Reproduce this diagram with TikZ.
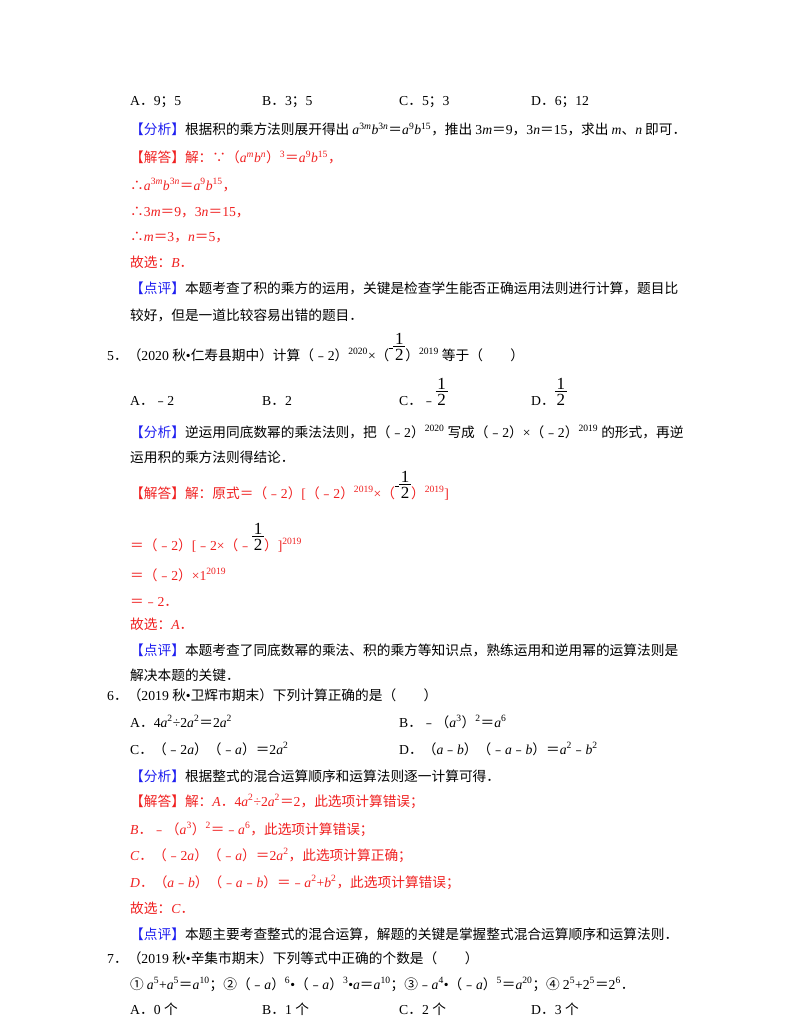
\documentclass[tikz,border=0pt]{standalone}
\usepackage{fontspec}
\setmainfont{Liberation Serif}
\newfontfamily\cjk{Noto Sans CJK SC}
\newfontfamily\fracf{Liberation Sans}
\XeTeXinterchartokenstate=1
\newXeTeXintercharclass\cjkc
\newcount\rc
\def\setrange#1#2{\rc=#1 \loop \XeTeXcharclass\rc=\cjkc \advance\rc 1 \ifnum\rc<#2 \repeat}
\setrange{"4E00}{"A000}
\setrange{"3000}{"3040}
\setrange{"FF00}{"FFF0}
\setrange{"FE30}{"FE70}
\setrange{"2460}{"2500}
\XeTeXcharclass"2234=\cjkc \XeTeXcharclass"2235=\cjkc
\XeTeXinterchartoks 0 \cjkc = {\cjk}
\XeTeXinterchartoks 4095 \cjkc = {\cjk}
\XeTeXinterchartoks \cjkc 0 = {\rmfamily}
\XeTeXinterchartoks 4095 0 = {\rmfamily}
\definecolor{fx}{HTML}{1F1FF0}
\definecolor{jd}{HTML}{F02020}
\newcommand{\su}[1]{\textsuperscript{#1}}
\newcommand{\va}[1]{\textit{#1}}
\newcommand{\fxl}{{\color{fx}【分析】}}
\newcommand{\dpl}{{\color{fx}【点评】}}
\newcommand{\jdl}{【解答】}
\newcommand{\fr}{{\fontsize{17}{17}\fracf\vbox{\hbox to 12pt{\hss 1\hss}\kern2pt\hrule height 1.1pt\kern1.5pt\hbox to 12pt{\hss 2\hss}}}}
\newcommand{\hf}{\rule[11pt]{4pt}{1pt}\fr}
\begin{document}
\begin{tikzpicture}[x=1pt,y=-1pt,every node/.style={anchor=base west,inner sep=0pt,font=\fontsize{13.7}{16}\selectfont},
red/.style={text=jd}]
\useasboundingbox[fill=white] (0,0) rectangle (800,1035);
\node (a1) at (130,106) {A．9；5};
\node (b1) at (262,106) {B．3；5};
\node (c1) at (399,106) {C．5；3};
\node (d1) at (531,106) {D．6；12};
\node (l2) at (130,135) {\fxl 根据积的乘方法则展开得出 \va{a}\su{3\va{m}}\va{b}\su{3\va{n}}＝\va{a}\su{9}\va{b}\su{15}，推出 3\va{m}＝9，3\va{n}＝15，求出 \va{m}、\va{n} 即可．};
\node[red] (l3) at (130,163) {\jdl 解：∵（\va{a}\su{\va{m}}\va{b}\su{\va{n}}）\su{3}＝\va{a}\su{9}\va{b}\su{15}，};
\node[red] (l4) at (130,190) {∴\va{a}\su{3\va{m}}\va{b}\su{3\va{n}}＝\va{a}\su{9}\va{b}\su{15}，};
\node[red] (l5) at (130,216) {∴3\va{m}＝9，3\va{n}＝15，};
\node[red] (l6) at (130,241) {∴\va{m}＝3，\va{n}＝5，};
\node[red] (l7) at (130,267) {故选：\va{B}．};
\node (l8) at (130,293) {\dpl 本题考查了积的乘方的运用，关键是检查学生能否正确运用法则进行计算，题目比};
\node (l9) at (130,320) {较好，但是一道比较容易出错的题目．};
\node (q5) at (107,360) {5．（2020 秋•仁寿县期中）计算（﹣2）\su{2020}×（\hf）\su{2019} 等于（\qquad）};
\node (a5) at (130,405) {A．﹣2};
\node (b5) at (262,405) {B．2};
\node (c5) at (399,405) {C．﹣\fr};
\node (d5) at (531,405) {D．\fr};
\node (l10) at (130,437) {\fxl 逆运用同底数幂的乘法法则，把（﹣2）\su{2020} 写成（﹣2）×（﹣2）\su{2019} 的形式，再逆};
\node (l11) at (130,462) {运用积的乘方法则得结论．};
\node[red] (l12) at (130,498) {\jdl 解：原式＝（﹣2）[（﹣2）\su{2019}×（{\color{black}\hf}）\su{2019}]};
\node[red] (l13) at (130,550) {＝（﹣2）[﹣2×（﹣{\color{black}\fr}）]\su{2019}};
\node[red] (l14) at (130,580) {＝（﹣2）×1\su{2019}};
\node[red] (l15) at (130,606) {＝﹣2．};
\node[red] (l16) at (130,629) {故选：\va{A}．};
\node (l17) at (130,655) {\dpl 本题考查了同底数幂的乘法、积的乘方等知识点，熟练运用和逆用幂的运算法则是};
\node (l18) at (130,680) {解决本题的关键．};
\node (q6) at (107,700) {6．（2019 秋•卫辉市期末）下列计算正确的是（\qquad）};
\node (a6) at (130,727) {A．4\va{a}\su{2}÷2\va{a}\su{2}＝2\va{a}\su{2}};
\node (b6) at (399,727) {B．﹣（\va{a}\su{3}）\su{2}＝\va{a}\su{6}};
\node (c6) at (130,754) {C．（﹣2\va{a}）（﹣\va{a}）＝2\va{a}\su{2}};
\node (d6) at (399,754) {D．（\va{a}﹣\va{b}）（﹣\va{a}﹣\va{b}）＝\va{a}\su{2}﹣\va{b}\su{2}};
\node (l19) at (130,781) {\fxl 根据整式的混合运算顺序和运算法则逐一计算可得．};
\node[red] (l20) at (130,806) {\jdl 解：\va{A}．4\va{a}\su{2}÷2\va{a}\su{2}＝2，此选项计算错误；};
\node[red] (l21) at (130,834) {\va{B}．﹣（\va{a}\su{3}）\su{2}＝﹣\va{a}\su{6}，此选项计算错误；};
\node[red] (l22) at (130,860) {\va{C}．（﹣2\va{a}）（﹣\va{a}）＝2\va{a}\su{2}，此选项计算正确；};
\node[red] (l23) at (130,887) {\va{D}．（\va{a}﹣\va{b}）（﹣\va{a}﹣\va{b}）＝﹣\va{a}\su{2}+\va{b}\su{2}，此选项计算错误；};
\node[red] (l24) at (130,913) {故选：\va{C}．};
\node (l25) at (130,939) {\dpl 本题主要考查整式的混合运算，解题的关键是掌握整式混合运算顺序和运算法则．};
\node (q7) at (107,963) {7．（2019 秋•辛集市期末）下列等式中正确的个数是（\qquad）};
\node (l26) at (130,989) {① \va{a}\su{5}+\va{a}\su{5}＝\va{a}\su{10}；②（﹣\va{a}）\su{6}•（﹣\va{a}）\su{3}•\va{a}＝\va{a}\su{10}；③﹣\va{a}\su{4}•（﹣\va{a}）\su{5}＝\va{a}\su{20}；④ 2\su{5}+2\su{5}＝2\su{6}．};
\node (a7) at (130,1014) {A．0 个};
\node (b7) at (262,1014) {B．1 个};
\node (c7) at (399,1014) {C．2 个};
\node (d7) at (531,1014) {D．3 个};
\end{tikzpicture}
\end{document}
